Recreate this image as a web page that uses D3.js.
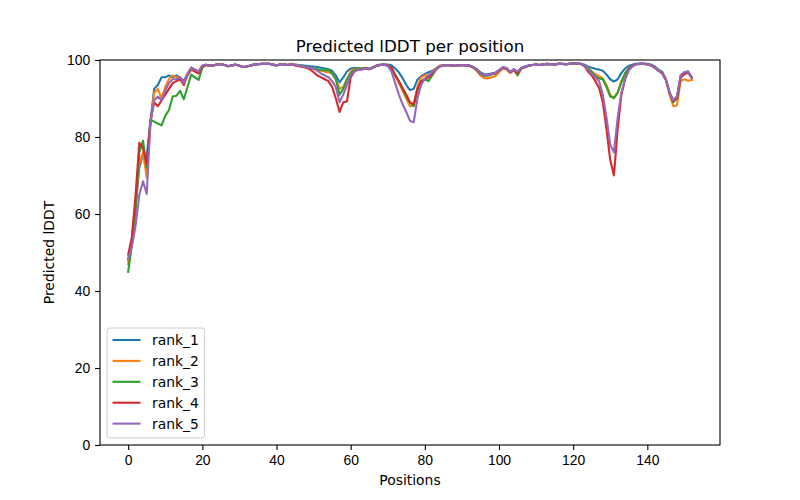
<!DOCTYPE html>
<html lang="en">
<head>
<meta charset="UTF-8">
<title>Predicted lDDT per position</title>
<style>
    body { margin: 0; background: #fff; }
    svg { display: block; font-family: "DejaVu Sans", sans-serif; }
    .tick text { font-size: 13.9px; fill: #000; }
    .tick line { stroke: #000; stroke-width: 1.1px; }
    .domain { stroke: none; }
</style>
<script src="https://d3js.org/d3.v7.min.js"></script>
</head>
<body>
<div id="chart"></div>
<script>
// pLDDT per residue, positions 0..152
const rank_1 = [48, 53, 62, 72, 75.5, 75, 84, 92.5, 93.5, 95.5, 95.5, 96, 95.5, 96, 95.5, 94.5, 96.5, 98, 97.5, 97, 98.5,
    98.8, 98.5, 98.6, 98.9, 98.9, 98.7, 98.4, 98.6, 98.8, 98.5, 98.2, 98.3, 98.6, 98.8, 98.9, 99, 99, 99, 98.8, 98.6, 98.9, 98.9, 98.7, 98.9, 98.8, 98.7, 98.6, 98.5, 98.4,
    98.3, 98.2, 98.0, 97.8, 97.6, 97.2, 96, 94.2, 95.5, 97, 97.8, 98,
    97.9, 97.7, 97.9, 97.7, 98.1, 98.6, 98.8, 98.9,
    98.8, 98.6, 97.8, 96.8, 95.3, 93.5, 92.2, 92.5, 94.9, 95.8, 96.4, 96.8, 97.2, 97.8, 98.5,
    98.6, 98.7, 98.6, 98.5, 98.6, 98.7, 98.6,
    98.6, 98.2, 97.6, 96.8, 96.3, 96.3, 96.5, 96.7, 97.4, 98.1, 97.9, 96.9, 97.6, 96.8, 97.9, 98.3, 98.6,
    98.7, 98.8, 98.7, 98.9, 99, 98.9, 98.8, 99, 99, 98.9, 99, 99.1, 99.1,
    99, 98.8, 98.3, 98, 97.7, 97.5, 97.2, 96.2, 95, 94.4, 95, 96.6, 97.8, 98.5, 98.8, 99,
    99.1, 99.1, 99, 98.8, 98.3, 97.5, 97, 95, 91.5, 89.5, 90.5, 96, 96.8, 97, 95.5];

const rank_2 = [47, 53, 63, 73, 76, 69.5, 83, 91.5, 92.5, 90, 93, 95, 96, 95.5, 95.5, 94, 96.5, 98, 97.5, 97, 98.5,
    98.8, 98.5, 98.6, 98.9, 98.9, 98.7, 98.4, 98.6, 98.8, 98.5, 98.2, 98.3, 98.6, 98.8, 98.9, 99, 99, 99, 98.8, 98.6, 98.9, 98.9, 98.7, 98.9, 98.8, 98.6, 98.4, 98.2, 98.0,
    97.8, 97.4, 97.2, 97, 96.8, 96.5, 95, 92.5, 93, 95, 97, 97.8,
    97.8, 97.6, 97.8, 97.6, 98, 98.5, 98.7, 98.8,
    98.5, 98, 96, 94, 92, 90, 88, 88.3, 93, 95.5, 96, 96, 97, 97.8, 98.5,
    98.6, 98.7, 98.6, 98.5, 98.6, 98.7, 98.6,
    98.5, 98, 97.2, 96, 95.3, 95.2, 95.5, 95.8, 96.8, 97.8, 97.6, 96.6, 97.4, 96.6, 97.8, 98.2, 98.5,
    98.7, 98.8, 98.7, 98.9, 99, 98.9, 98.8, 99, 99, 98.9, 99, 99.1, 99.1,
    99, 98.5, 98, 97, 96.3, 95.8, 95.2, 93.5, 91, 90, 91.5, 94.5, 96.5, 97.8, 98.5, 98.9,
    99, 99, 98.9, 98.6, 98, 97.2, 96.7, 95, 91, 88, 88.2, 94.5, 95, 94.6, 94.8];

const rank_3 = [45, 52, 61, 76, 79, 72, 84.5, 84, 83.5, 83, 85.5, 87, 90.5, 90.7, 92, 89.8, 93, 96.2, 95.5, 94.8, 98,
    98.7, 98.5, 98.6, 98.9, 98.9, 98.7, 98.4, 98.6, 98.8, 98.5, 98.2, 98.3, 98.6, 98.8, 98.9, 99, 99, 99, 98.8, 98.6, 98.9, 98.9, 98.7, 98.9, 98.7, 98.5, 98.3, 98.1, 97.9,
    97.8, 97.6, 97.4, 97.3, 97.5, 96.5, 95, 91, 92.5, 95, 96.5, 97.5,
    97.9, 97.8, 98, 97.7, 98.1, 98.5, 98.7, 98.8,
    98.5, 98, 96.2, 94.5, 92.5, 90.5, 89, 88, 92, 94.5, 95, 94.5, 96, 97.5, 98.3,
    98.6, 98.7, 98.6, 98.5, 98.6, 98.7, 98.6,
    98.5, 98.1, 97.4, 96.3, 95.9, 95.9, 96.2, 96.5, 97.2, 98, 97.8, 96.8, 97.5, 96, 97.8, 98.2, 98.5,
    98.7, 98.8, 98.7, 98.9, 99, 98.9, 98.8, 99, 99, 98.9, 99, 99.1, 99.1,
    99, 98.5, 97.8, 97, 95.8, 95.2, 95, 93, 90.5, 90.2, 91.5, 94.2, 96.5, 97.8, 98.5, 98.9,
    99, 99, 98.9, 98.6, 98, 97.3, 96.6, 95, 91.5, 89, 90, 95.5, 96.5, 96.8, 95.5];

const rank_4 = [49.4, 54, 65, 78.5, 77, 73, 84, 89, 88, 89.5, 91, 92.5, 94, 94.5, 95, 93.5, 96, 97.5, 97, 96.5, 98.3,
    98.7, 98.5, 98.6, 98.9, 98.9, 98.7, 98.4, 98.6, 98.8, 98.5, 98.2, 98.3, 98.6, 98.8, 98.9, 99, 99, 99, 98.8, 98.6, 98.9, 98.9, 98.7, 98.9, 98.6, 98.4, 98.2, 98.0, 97.6,
    96.8, 96, 95.5, 95, 94.5, 93, 90, 86.5, 89, 89.2, 95.5, 97,
    97.5, 97.6, 97.8, 97.6, 98, 98.5, 98.7, 98.8,
    98.5, 98, 96, 94.5, 92.7, 91, 89, 88.5, 92.5, 94.5, 95, 95.5, 96.5, 97.5, 98.3,
    98.6, 98.7, 98.6, 98.5, 98.6, 98.7, 98.6,
    98.5, 98.1, 97.6, 96.4, 96, 96.1, 96.4, 96.5, 97.2, 98, 97.8, 96.8, 97.5, 96.5, 97.8, 98.2, 98.5,
    98.7, 98.8, 98.7, 98.9, 99, 98.9, 98.8, 99, 99, 98.9, 99, 99.1, 99.1,
    99, 98.5, 97, 96, 94.5, 92.7, 89, 82, 74, 70, 82, 91, 95, 97.5, 98.5, 98.9,
    99, 99, 98.9, 98.6, 98, 97.2, 96.5, 94.8, 91.5, 89.3, 90, 95.5, 96.3, 96.8, 95.3];

const rank_5 = [48.5, 51.5, 57, 65, 68.5, 65.2, 84, 89.5, 90.5, 89.5, 92, 94, 95, 95, 95.5, 94, 96, 98, 97.5, 97, 98.5,
    98.8, 98.5, 98.6, 98.9, 98.9, 98.7, 98.4, 98.6, 98.8, 98.5, 98.2, 98.3, 98.6, 98.8, 98.9, 99, 99, 99, 98.8, 98.6, 98.9, 98.9, 98.7, 98.9, 98.7, 98.5, 98.3, 98.1, 97.9,
    97.7, 97.2, 96.5, 96, 95.5, 94.5, 93, 89, 91, 93.5, 96, 97,
    97.6, 97.5, 97.8, 97.6, 98, 98.5, 98.7, 98.8,
    98.5, 97, 94, 91, 88.5, 86.5, 84.2, 83.8, 90, 93.5, 95.2, 96, 96.8, 97.5, 98.3,
    98.6, 98.7, 98.6, 98.5, 98.6, 98.7, 98.6,
    98.6, 98.2, 97.6, 96.5, 96.1, 96.1, 96.4, 96.6, 97.3, 98.1, 97.9, 96.9, 97.6, 97, 97.9, 98.3, 98.6,
    98.7, 98.8, 98.7, 98.9, 99, 98.9, 98.8, 99, 99, 98.9, 99, 99.1, 99.1,
    99, 98.5, 97.5, 96.5, 95.5, 94.5, 91, 85, 78, 76, 85, 91.5, 95, 97.3, 98.3, 98.9,
    99, 99, 98.9, 98.6, 98, 97.3, 96.6, 95, 91.5, 89.5, 90.5, 96, 96.8, 97, 95.3];

const seriesNames = ["rank_1", "rank_2", "rank_3", "rank_4", "rank_5"];
const seriesColors = ["#1f77b4", "#ff7f0e", "#2ca02c", "#d62728", "#9467bd"];
const xTicks = [0, 20, 40, 60, 80, 100, 120, 140];
const yTicks = [0, 20, 40, 60, 80, 100];

const allSeries = [rank_1, rank_2, rank_3, rank_4, rank_5];

const W = 800, H = 500;
const margin = {top: 60, right: 80, bottom: 55, left: 100};

const svg = d3.select("#chart").append("svg")
    .attr("width", W).attr("height", H);

const n = rank_1.length - 1;
const pad = n * 0.05;
const x = d3.scaleLinear().domain([-pad, n + pad]).range([margin.left, W - margin.right]);
const y = d3.scaleLinear().domain([0, 100]).range([H - margin.bottom, margin.top]);

const line = d3.line().x((d, i) => x(i)).y(d => y(d));

const plot = svg.append("g");
plot.append("defs").append("clipPath").attr("id", "clip")
    .append("rect")
    .attr("x", margin.left).attr("y", margin.top)
    .attr("width", W - margin.left - margin.right)
    .attr("height", H - margin.top - margin.bottom);

allSeries.forEach((s, k) => {
    plot.append("path")
        .datum(s)
        .attr("clip-path", "url(#clip)")
        .attr("fill", "none")
        .attr("stroke", seriesColors[k])
        .attr("stroke-width", 2.08)
        .attr("stroke-linejoin", "round")
        .attr("stroke-linecap", "square")
        .attr("d", line);
});

// axes
svg.append("g")
    .attr("transform", `translate(0,${H - margin.bottom})`)
    .call(d3.axisBottom(x).tickValues(xTicks).tickSize(4.9).tickPadding(4.9).tickFormat(d3.format("d")));
svg.append("g")
    .attr("transform", `translate(${margin.left},0)`)
    .call(d3.axisLeft(y).tickValues(yTicks).tickSize(4.9).tickPadding(4.9).tickFormat(d3.format("d")));

svg.append("rect")
    .attr("x", margin.left).attr("y", margin.top)
    .attr("width", W - margin.left - margin.right)
    .attr("height", H - margin.top - margin.bottom)
    .attr("fill", "none").attr("stroke", "#000").attr("stroke-width", 1.1);

svg.append("text")
    .attr("x", (margin.left + W - margin.right) / 2).attr("y", 52)
    .attr("text-anchor", "middle").attr("font-size", 16.7)
    .text("Predicted lDDT per position");

svg.append("text")
    .attr("x", (margin.left + W - margin.right) / 2).attr("y", 485)
    .attr("text-anchor", "middle").attr("font-size", 13.9)
    .text("Positions");

svg.append("text")
    .attr("transform", `translate(54,${(margin.top + H - margin.bottom) / 2}) rotate(-90)`)
    .attr("text-anchor", "middle").attr("font-size", 13.9)
    .text("Predicted lDDT");

// legend
const lg = svg.append("g").attr("transform", "translate(107,328)");
lg.append("rect")
    .attr("width", 97.5).attr("height", 110)
    .attr("rx", 3).attr("fill", "#fff").attr("fill-opacity", 0.8)
    .attr("stroke", "#ccc").attr("stroke-width", 1);
seriesNames.forEach((name, k) => {
    const yy = 12 + k * 20.9;
    lg.append("line")
        .attr("x1", 5.5).attr("x2", 33.5).attr("y1", yy).attr("y2", yy)
        .attr("stroke", seriesColors[k]).attr("stroke-width", 2.08);
    lg.append("text")
        .attr("x", 45).attr("y", yy + 5)
        .attr("font-size", 13.9).attr("fill", "#000")
        .text(name);
});
</script>
</body>
</html>
